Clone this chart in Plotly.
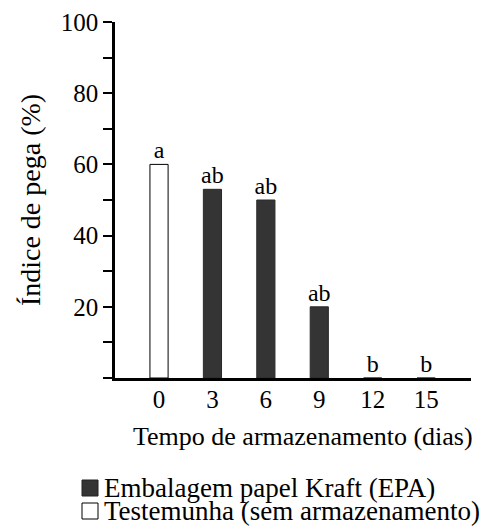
import plotly.graph_objects as go

# ---- data ----
categories = ["0", "3", "6", "9", "12", "15"]
epa_days = ["3", "6", "9", "12", "15"]
epa_values = [53, 50, 20, 0, 0]
control_days = ["0"]
control_values = [60]
letters = ["a", "ab", "ab", "ab", "b", "b"]
label_values = [60, 53, 50, 20, 0, 0]
y_tickvals = [0, 10, 20, 30, 40, 50, 60, 70, 80, 90, 100]
y_ticktext = ["", "", "20", "", "40", "", "60", "", "80", "", "100"]
x_title = "Tempo de armazenamento (dias)"
y_title = "Índice de pega (%)"

W, H = 485, 528
L, R, T, B = 115, 14, 22, 150
PW, PH = W - L - R, H - T - B
FONT = "Liberation Serif, Times New Roman, serif"


def px_x(p):
    return (p - L) / PW


def px_y(p):
    return (H - B - p) / PH


fig = go.Figure()
fig.add_trace(go.Bar(
    x=control_days, y=control_values, name="Testemunha (sem armazenamento)",
    marker=dict(color="white", line=dict(color="black", width=1)),
    width=0.34, showlegend=False,
))
fig.add_trace(go.Bar(
    x=epa_days, y=epa_values, name="Embalagem papel Kraft (EPA)",
    marker=dict(color="#343434", line=dict(color="#2a2a2a", width=1)),
    width=0.34, showlegend=False,
))
fig.add_trace(go.Scatter(
    x=categories, y=label_values, text=letters, mode="text",
    textposition="top center", textfont=dict(family=FONT, size=24, color="black"),
    showlegend=False, cliponaxis=False, hoverinfo="skip",
))

fig.update_layout(
    width=W, height=H,
    margin=dict(l=L, r=R, t=T, b=B, autoexpand=False),
    paper_bgcolor="white", plot_bgcolor="white",
    barmode="overlay",
    font=dict(family=FONT, size=24, color="black"),
    xaxis=dict(
        type="category", categoryorder="array", categoryarray=categories,
        range=[-0.824, 5.84], showline=True, linecolor="black", linewidth=2.5,
        ticks="", showgrid=False, zeroline=False, automargin=False,
        tickfont=dict(family=FONT, size=25), ticklabelstandoff=-3,
    ),
    yaxis=dict(
        range=[0, 100], showline=True, linecolor="black", linewidth=2.5,
        tickvals=y_tickvals, ticktext=y_ticktext, automargin=False,
        ticks="outside", ticklen=9, tickwidth=2, tickcolor="black",
        showgrid=False, zeroline=False,
        tickfont=dict(family=FONT, size=25),
        title=dict(text=y_title, font=dict(family=FONT, size=28), standoff=12),
    ),
)

# x-axis title, centred as in the reference
fig.add_annotation(text=x_title, xref="paper", yref="paper", x=px_x(303), y=px_y(437),
                   xanchor="center", yanchor="middle", showarrow=False,
                   font=dict(family=FONT, size=26, color="black"))

# custom legend (swatch squares + labels)
legend_items = [
    ("Embalagem papel Kraft (EPA)", "#343434", "#222222", 488),
    ("Testemunha (sem armazenamento)", "white", "black", 511),
]
for text, fill, edge, cy in legend_items:
    fig.add_shape(type="rect", xref="paper", yref="paper",
                  x0=px_x(82), x1=px_x(98), y0=px_y(cy + 8), y1=px_y(cy - 8),
                  fillcolor=fill, line=dict(color=edge, width=1))
    fig.add_annotation(text=text, xref="paper", yref="paper", x=px_x(102), y=px_y(cy),
                       xanchor="left", yanchor="middle", showarrow=False,
                       font=dict(family=FONT, size=27, color="black"))

fig.write_html(
    "out.html",
    config={"displayModeBar": False},
    post_script="document.body.style.margin='0';document.body.style.overflow='hidden';",
)
